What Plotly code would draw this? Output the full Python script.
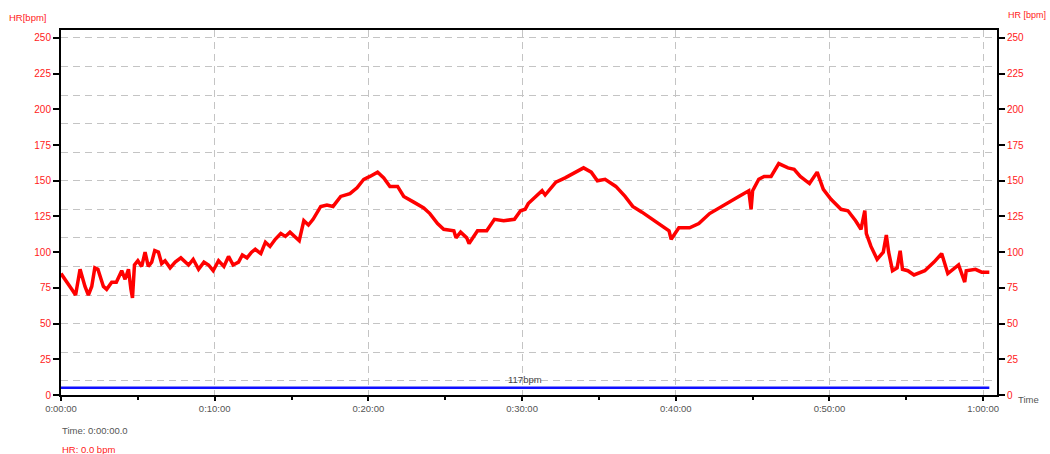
import plotly.graph_objects as go

# Heart-rate recording: elapsed time (minutes) and HR (bpm)
hr_time = [
    0.0, 0.35, 0.7, 0.95, 1.24, 1.56, 1.78, 2.0, 2.2, 2.4, 2.76, 2.97, 3.3, 3.6,
    3.95, 4.17, 4.39, 4.55, 4.65, 4.78, 5.0, 5.25, 5.47, 5.68, 5.9, 6.1, 6.34,
    6.55, 6.77, 7.1, 7.43, 7.8, 8.3, 8.6, 8.95, 9.3, 9.6, 9.9, 10.25, 10.6,
    10.9, 11.2, 11.55, 11.8, 12.1, 12.4, 12.64, 13.0, 13.3, 13.6, 13.94, 14.3,
    14.6, 14.9, 15.3, 15.5, 15.8, 16.1, 16.4, 16.9, 17.3, 17.7, 18.2, 18.8,
    19.26, 19.7, 20.1, 20.6, 21.0, 21.4, 21.9, 22.3, 22.95, 23.6, 24.0, 24.5,
    24.9, 25.56, 25.7, 26.0, 26.4, 26.55, 27.1, 27.7, 28.2, 28.8, 29.5, 29.9,
    30.2, 30.4, 30.7, 31.3, 31.5, 32.2, 32.8, 33.5, 34.0, 34.5, 34.9, 35.4,
    36.1, 36.7, 37.2, 37.8, 38.5, 39.1, 39.56, 39.7, 40.2, 40.9, 41.5, 42.2,
    42.8, 43.5, 44.1, 44.75, 44.9, 45.0, 45.4, 45.75, 46.2, 46.7, 47.3, 47.7,
    48.1, 48.7, 49.2, 49.6, 50.1, 50.75, 51.2, 51.7, 52.05, 52.3, 52.4, 52.7,
    53.1, 53.5, 53.7, 53.85, 54.1, 54.4, 54.6, 54.75, 55.1, 55.5, 56.2, 56.8,
    57.3, 57.7, 58.4, 58.8, 58.9, 59.5, 59.9, 60.4,
]
hr_bpm = [
    85, 80, 74, 70, 88, 76, 70, 76, 89, 88, 76, 74, 79, 79,
    87, 81, 88, 74, 68, 91, 94, 90, 100, 90, 93, 101, 100,
    92, 94, 89, 93, 96, 91, 95, 88, 93, 91, 87, 94, 90,
    97, 91, 93, 98, 96, 100, 102, 99, 107, 104, 109, 113,
    111, 114, 110, 108, 122, 119, 123, 132, 133, 132, 139, 141,
    145, 151, 153, 156, 152, 146, 146, 139, 135, 131, 127, 120,
    116, 115, 110, 114, 110, 106, 115, 115, 123, 122, 123, 129,
    130, 134, 137, 143, 140, 149, 152, 156, 159, 156, 150, 151,
    146, 139, 132, 128, 123, 118, 115, 109, 117, 117, 120, 127,
    131, 135, 139, 143, 130, 143, 151, 153, 153, 162, 159, 158,
    153, 148, 156, 144, 137, 130, 129, 122, 116, 129, 113, 104,
    95, 100, 112, 100, 87, 89, 101, 88, 87, 84, 87, 93,
    99, 85, 91, 79, 87, 88, 86, 86,
]

# Lap bar along the bottom of the chart and its average-HR caption
lap_time = [0.0, 60.4]
lap_level = 5
lap_label = "117bpm"

# Axis ticks
time_ticks = [0, 10, 20, 30, 40, 50, 60]
time_labels = ["0:00:00", "0:10:00", "0:20:00", "0:30:00", "0:40:00", "0:50:00", "1:00:00"]
time_minor = [5, 15, 25, 35, 45, 55]
hr_ticks = [0, 25, 50, 75, 100, 125, 150, 175, 200, 225, 250]
hr_grid = [10, 30, 50, 70, 90, 110, 130, 150, 170, 190, 210, 230, 250]

W, H = 1050, 454
ML, MR, MT, MB = 61, 53, 30, 59
FONT = "Liberation Sans, Arial, sans-serif"
RED = "#ff1a1a"
GREY_TXT = "#555555"
GRID = "#c4c4c4"


def px(x, y):
    """Pixel position -> paper coordinates."""
    pw = W - ML - MR
    ph = H - MT - MB
    return (x - ML) / pw, (H - MB - y) / ph


fig = go.Figure()

fig.add_trace(go.Scatter(
    x=hr_time, y=hr_bpm, mode="lines",
    line=dict(color="#ff0000", width=3.5),
    xaxis="x", yaxis="y", hoverinfo="skip",
))
fig.add_trace(go.Scatter(
    x=lap_time, y=[lap_level] * len(lap_time), mode="lines",
    line=dict(color="#1010ff", width=2.5),
    xaxis="x", yaxis="y", hoverinfo="skip",
))
# empty traces so the labelled overlay axes are drawn
fig.add_trace(go.Scatter(x=[], y=[], xaxis="x", yaxis="y2", hoverinfo="skip"))
fig.add_trace(go.Scatter(x=[], y=[], xaxis="x", yaxis="y3", hoverinfo="skip"))

yr = [0, 255.5]

fig.update_layout(
    width=W, height=H,
    margin=dict(l=ML, r=MR, t=MT, b=MB, pad=0),
    paper_bgcolor="white", plot_bgcolor="white",
    showlegend=False, hovermode=False,
    font=dict(family=FONT, size=10, color=GREY_TXT),
    xaxis=dict(
        range=[0, 60.9], tickmode="array", tickvals=time_ticks, ticktext=time_labels,
        ticks="outside", ticklen=4, tickwidth=1.5, tickcolor="black",
        showline=True, linecolor="black", linewidth=2, mirror=True,
        showgrid=True, gridcolor=GRID, gridwidth=1.3, griddash="7px,5px",
        zeroline=False, tickfont=dict(size=9.5, color=GREY_TXT),
        minor=dict(tickmode="array", tickvals=time_minor, ticks="outside",
                   ticklen=3, tickwidth=1.5, tickcolor="black", showgrid=False),
    ),
    yaxis=dict(
        range=yr, tickmode="array", tickvals=hr_grid, showticklabels=False,
        ticks="", showline=False, zeroline=False,
        showgrid=True, gridcolor=GRID, gridwidth=1.3, griddash="7px,5px",
    ),
    yaxis2=dict(
        range=yr, overlaying="y", side="left", tickmode="array", tickvals=hr_ticks,
        ticks="outside", ticklen=6, tickwidth=2, tickcolor="black",
        showline=True, linecolor="black", linewidth=2, showgrid=False, zeroline=False,
        tickfont=dict(size=10, color=RED),
    ),
    yaxis3=dict(
        range=yr, overlaying="y", side="right", tickmode="array", tickvals=hr_ticks,
        ticks="outside", ticklen=6, tickwidth=2, tickcolor="black",
        showline=True, linecolor="black", linewidth=2, showgrid=False, zeroline=False,
        tickfont=dict(size=10, color=RED),
    ),
)

annotations = []


def label(text, x, y, color, size=9.5, xanchor="left"):
    ax, ay = px(x, y)
    annotations.append(dict(
        text=text, x=ax, y=ay, xref="paper", yref="paper", showarrow=False,
        xanchor=xanchor, yanchor="middle", font=dict(family=FONT, size=size, color=color),
    ))


label("HR[bpm]", 7, 17, RED)
label("HR [bpm]", 1048, 15, RED, size=9, xanchor="right")
label("Time", 1016, 399, GREY_TXT)
label("Time: 0:00:00.0", 60, 430, GREY_TXT)
label("HR: 0.0 bpm", 60, 449, RED)

annotations.append(dict(
    text=lap_label, x=sum(lap_time) / 2, y=lap_level, xref="x", yref="y",
    showarrow=False, yanchor="bottom", yshift=1,
    font=dict(family=FONT, size=9.5, color="#444444"),
))

fig.update_layout(annotations=annotations)

fig.write_html("out.html")
